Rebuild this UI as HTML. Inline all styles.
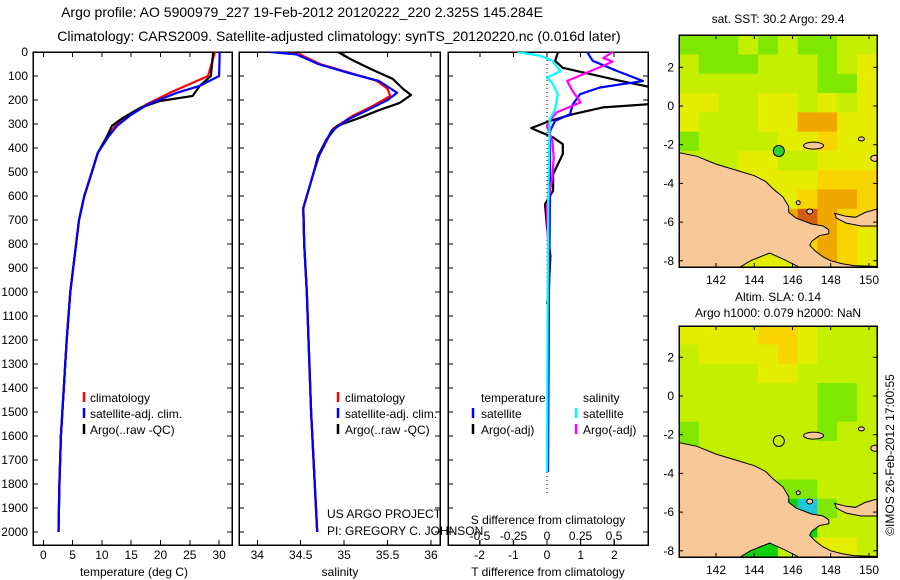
<!DOCTYPE html>
<html><head><meta charset="utf-8"><style>
html,body{margin:0;padding:0;background:#fff;}
svg{display:block;font-family:"Liberation Sans",sans-serif;}
text{font-size:12px;fill:#000;}
</style></head><body>
<svg id="fig" width="900" height="580" viewBox="0 0 900 580">
<defs>
<clipPath id="c1"><rect x="33" y="52" width="199" height="493"/></clipPath>
<clipPath id="c2"><rect x="239" y="52" width="201" height="493"/></clipPath>
<clipPath id="c3"><rect x="448" y="52" width="200" height="493"/></clipPath>
<clipPath id="cm1"><rect x="679" y="35" width="198" height="232"/></clipPath>
<clipPath id="cm2"><rect x="679" y="326" width="198" height="231"/></clipPath>
</defs>
<text x="302" y="17" text-anchor="middle" style="font-size:14px">Argo profile: AO 5900979_227 19-Feb-2012 20120222_220 2.325S 145.284E</text>
<text x="339" y="41" text-anchor="middle" style="font-size:14px">Climatology: CARS2009. Satellite-adjusted climatology: synTS_20120220.nc (0.016d later)</text>
<text x="778" y="23" text-anchor="middle">sat. SST: 30.2 Argo: 29.4</text>
<text x="778" y="301" text-anchor="middle">Altim. SLA: 0.14</text>
<text x="778" y="317" text-anchor="middle">Argo h1000: 0.079 h2000: NaN</text>
<text transform="translate(894,455) rotate(-90)" text-anchor="middle">©IMOS 26-Feb-2012 17:00:55</text>
<g id="plots"></g>
<g id="maps"></g>
</svg>
<script>
// ---- profile data (depth in m) ----
const deepDepth = [420, 500, 600, 700, 800, 900, 1000, 1200, 1400, 1600, 1800, 2000];
const deepTemp  = [9.3, 8.3, 7.0, 6.1, 5.6, 5.1, 4.6, 4.0, 3.5, 3.0, 2.75, 2.6];
const climTempDepth = [0, 100, 170, 217, 265, 295, 337];
const climTemp      = [29.3, 28.1, 21.6, 17.7, 14.5, 12.7, 11.4];
const satTempDepth  = [0, 100, 141, 170, 217, 265, 308, 350];
const satTemp       = [30.1, 30.0, 26.7, 22.8, 17.9, 14.8, 12.6, 11.2];
const argoTempDepth = [0, 100, 141, 183, 204, 233, 274, 308, 350];
const argoTemp      = [29.0, 28.6, 26.7, 25.5, 19.9, 16.5, 13.6, 11.7, 10.9];

const deepSalDepth = [500, 650, 800, 1000, 1500, 2000];
const deepSal      = [34.65, 34.53, 34.54, 34.57, 34.62, 34.69];
const climSalDepth = [0, 10, 50, 87, 121, 154, 183, 225, 266, 320, 432];
const climSal      = [34.18, 34.49, 34.72, 35.07, 35.38, 35.50, 35.53, 35.33, 35.10, 34.87, 34.71];
const satSalDepth  = [0, 10, 50, 87, 121, 170, 200, 240, 280, 330, 432];
const satSal       = [34.15, 34.45, 34.70, 35.05, 35.40, 35.61, 35.50, 35.28, 35.05, 34.85, 34.71];
const argoSalDepth = [0, 29, 70, 112, 154, 179, 212, 245, 274, 308, 362, 432];
const argoSal      = [34.93, 35.07, 35.30, 35.56, 35.68, 35.77, 35.64, 35.38, 35.18, 34.92, 34.80, 34.70];

const argoTdiffDepth = [0, 37, 66, 120, 150, 216, 231, 259, 287, 317, 356, 384, 425, 509, 578, 634, 730, 850, 1000, 1050];
const argoTdiff      = [0.33, 0.24, 0.47, 2.17, 3.2, 3.2, 1.66, 0.77, 0.09, -0.47, 0.18, 0.47, 0.47, 0.18, 0.18, -0.06, 0.0, 0.1, 0.05, 0.0];
const satTdiffDepth  = [0, 37, 79, 121, 148, 176, 218, 259, 287, 330, 600, 1000, 1750];
const satTdiff       = [1.19, 1.36, 2.08, 2.85, 1.57, 0.98, 0.77, 0.68, 0.24, 0.09, 0.09, 0.06, 0.03];
const satSdiffDepth  = [0, 16, 37, 79, 107, 130, 176, 240, 280, 600, 1000, 1750];
const satSdiff       = [-0.22, -0.05, 0.04, 0.10, 0.0, 0.04, 0.08, 0.06, 0.02, 0.01, 0.005, 0.0];
const argoSdiffDepth = [0, 25, 40, 93, 121, 162, 210, 252, 287, 310, 370, 440, 520, 650, 830];
const argoSdiff      = [0.49, 0.42, 0.49, 0.27, 0.15, 0.19, 0.25, 0.07, 0.02, 0.0, 0.04, 0.05, 0.04, 0.0, 0.01];

const depthTicks = [0,100,200,300,400,500,600,700,800,900,1000,1100,1200,1300,1400,1500,1600,1700,1800,1900,2000];
const tempTicks = [0,5,10,15,20,25,30];
const salTicks = [34,34.5,35,35.5,36];
const tdiffTicks = [-2,-1,0,1,2];
const sdiffTicks = [-0.5,-0.25,0,0.25,0.5];
const sdiffTickLabels = ['-0.5','-0.25','0','0.25','0.5'];

// ---- map data (colour class per ~1 degree cell, rows north->south) ----
const sstGrid = [
 [1,1,1,2,1,2,1,1,2,2],
 [2,1,1,1,2,2,2,1,2,3],
 [2,2,2,2,2,2,2,1,1,3],
 [3,3,2,2,3,3,2,3,2,3],
 [3,2,2,2,3,3,5,5,3,3],
 [1,2,2,2,2,3,3,4,3,3],
 [2,2,2,3,3,2,2,3,3,3],
 [2,2,2,3,3,3,3,4,4,4],
 [3,3,3,3,4,3,4,5,5,4],
 [3,3,3,3,4,5,6,5,4,4],
 [3,3,3,3,3,4,4,5,4,3],
 [3,3,3,3,3,3,4,5,4,3]];
const slaGrid = [
 [3,3,3,3,4,4,3,2,2,2],
 [2,3,3,3,3,4,3,2,2,2],
 [2,2,2,2,3,3,2,2,2,2],
 [2,2,2,2,2,2,2,1,1,2],
 [2,2,2,2,2,2,2,1,1,2],
 [1,2,2,2,2,2,2,1,2,2],
 [1,2,2,2,2,2,2,2,2,2],
 [2,2,2,2,2,2,2,2,2,2],
 [2,2,2,2,2,1,1,2,2,2],
 [2,2,2,2,2,0,7,1,2,2],
 [2,2,2,2,2,2,0,2,2,2],
 [2,2,2,0,0,2,2,3,3,2]];
const lonTicks = [142,144,146,148,150];
const latTicks = [2,0,-2,-4,-6,-8];
const argoLon = 145.284, argoLat = -2.325;

const NS='http://www.w3.org/2000/svg';
function el(tag, attrs, parent){const e=document.createElementNS(NS,tag);for(const k in attrs)e.setAttribute(k,attrs[k]);(parent||document.getElementById('plots')).appendChild(e);return e;}
const yD = d => 52 + d*0.24;
const xT = t => 43.3 + t*5.86;
const xS = s => 257.3 + (s-34)*86.85;
const xTd = t => 547 + t*33.7;
const xSd = s => 547 + s*134;

function frame(x0,x1,name){
  const r=el('rect',{x:x0,y:52,width:x1-x0,height:493,fill:'none',stroke:'#000','stroke-width':1.5,'shape-rendering':'crispEdges'});
  
  
  depthTicks.forEach(d=>{
    el('line',{x1:x0,x2:x0+5,y1:yD(d),y2:yD(d),stroke:'#000','shape-rendering':'crispEdges'});
    el('line',{x1:x1-5,x2:x1,y1:yD(d),y2:yD(d),stroke:'#000','shape-rendering':'crispEdges'});
  });
}
function xticks(vals,f,labels,y,topTicks){
  vals.forEach((v,i)=>{
    const x=f(v);
    el('line',{x1:x,x2:x,y1:540,y2:545,stroke:'#000','shape-rendering':'crispEdges'});
    if(topTicks!==false) el('line',{x1:x,x2:x,y1:52,y2:57,stroke:'#000','shape-rendering':'crispEdges'});
    const t=el('text',{x:x,y:y,'text-anchor':'middle'});t.textContent=labels?labels[i]:String(v);
    
    
  });
}
function line(dep,val,f,color,clip,name){
  const pts=dep.map((d,i)=>f(val[i]).toFixed(1)+','+yD(d).toFixed(1)).join(' ');
  const p=el('polyline',{points:pts,fill:'none',stroke:color,'stroke-width':2.2,'clip-path':'url(#'+clip+')','stroke-linejoin':'round'});
  
  
}
function txt(x,y,s,name,anchor){const t=el('text',{x:x,y:y,'text-anchor':anchor||'start'});t.textContent=s;
  
  
  return t;}
function legBar(x,y,c){el('line',{x1:x,x2:x,y1:y-10,y2:y,stroke:c,'stroke-width':2.5});}

// depth labels
depthTicks.forEach(d=>{const t=txt(28,yD(d)+4,String(d),'depth-tick-label','end');});

// panel 1: temperature
frame(33,232,'temperature-panel');
xticks(tempTicks,xT,null,559);
line(deepDepth,deepTemp,xT,'#f00','c1','temp-clim-deep');
line(climTempDepth.concat([420]),climTemp.concat([9.3]),xT,'#f00','c1','temp-climatology-line');
line(argoTempDepth.concat(deepDepth),argoTemp.concat(deepTemp),xT,'#000','c1','temp-argo-line');
line(satTempDepth.concat(deepDepth),satTemp.concat(deepTemp),xT,'#00f','c1','temp-satellite-line');
txt(134,576,'temperature (deg C)','temperature-axis-title','middle');
legBar(84,402,'#f00');txt(90,402,'climatology','legend-climatology');
legBar(84,418,'#00f');txt(90,418,'satellite-adj. clim.','legend-satellite');
legBar(84,434,'#000');txt(90,434,'Argo(..raw -QC)','legend-argo');

// panel 2: salinity
frame(239,440,'salinity-panel');
xticks(salTicks,xS,['34','34.5','35','35.5','36'],559);
line(climSalDepth.concat(deepSalDepth),climSal.concat(deepSal),xS,'#f00','c2','sal-climatology-line');
line(argoSalDepth.concat(deepSalDepth),argoSal.concat(deepSal),xS,'#000','c2','sal-argo-line');
line(satSalDepth.concat(deepSalDepth),satSal.concat(deepSal),xS,'#00f','c2','sal-satellite-line');
txt(340,576,'salinity','salinity-axis-title','middle');
legBar(338,402,'#f00');txt(345,402,'climatology','legend-climatology-2');
legBar(338,418,'#00f');txt(345,418,'satellite-adj. clim.','legend-satellite-2');
legBar(338,434,'#000');txt(345,434,'Argo(..raw -QC)','legend-argo-2');
txt(327,518,'US ARGO PROJECT','project-label');
txt(327,535,'PI: GREGORY C. JOHNSON','pi-label');

// panel 3: differences
frame(448,648,'difference-panel');
tdiffTicks.forEach(v=>{const x=xTd(v);el('line',{x1:x,x2:x,y1:540,y2:545,stroke:'#000'});const t=txt(x,559,String(v),'tdiff-tick-label','middle');});
sdiffTicks.forEach((v,i)=>{const x=xSd(v);el('line',{x1:x,x2:x,y1:52,y2:57,stroke:'#000'});el('line',{x1:x,x2:x,y1:540,y2:545,stroke:'#000'});txt(x,540,sdiffTickLabels[i],'sdiff-tick-label','middle');});
el('line',{x1:547,x2:547,y1:52,y2:yD(1850),stroke:'#000','stroke-dasharray':'1,3'});
line(argoTdiffDepth,argoTdiff,xTd,'#000','c3','tdiff-argo-line');
line(satTdiffDepth,satTdiff,xTd,'#00f','c3','tdiff-satellite-line');
line(argoSdiffDepth,argoSdiff,xSd,'#f0f','c3','sdiff-argo-line');
line(satSdiffDepth,satSdiff,xSd,'#0ff','c3','sdiff-satellite-line');
txt(548,524,'S difference from climatology','sdiff-axis-title','middle');
txt(548,576,'T difference from climatology','tdiff-axis-title','middle');
txt(481,402,'temperature','legend-temperature');
txt(583,402,'salinity','legend-salinity');
legBar(473,418,'#00f');txt(481,418,'satellite','legend-t-satellite');
legBar(473,434,'#000');txt(481,434,'Argo(-adj)','legend-t-argo');
legBar(576,418,'#0ff');txt(583,418,'satellite','legend-s-satellite');
legBar(576,434,'#f0f');txt(583,434,'Argo(-adj)','legend-s-argo');

// ---- maps ----
const palette=['#10d010','#80e800','#c4f000','#e4ec00','#f8d400','#f0a800','#d06010','#20c8d8'];
const mapsG=document.getElementById('maps');
function drawMap(grid, top, latZero, clip, name, filled){
  const lonX = lon => 716 + (lon-142)*19.125;
  const latY = lat => latZero - lat*19.35;
  const g=el('g',{'clip-path':'url(#'+clip+')'},mapsG);
  
  
  const lon0=140.07, lat0=3.66, dlon=1.033, dlat=0.997;
  grid.forEach((row,r)=>row.forEach((c,k)=>{
    const x0=lonX(lon0+k*dlon), x1=lonX(lon0+(k+1)*dlon);
    const y0=latY(lat0-r*dlat), y1=latY(lat0-(r+1)*dlat);
    const cell=el('rect',{x:x0,y:y0,width:x1-x0+0.5,height:y1-y0+0.5,fill:palette[c]},g);
    
    
  }));
  const land=[[140,-2.4],[141,-2.6],[142,-3.0],[143,-3.3],[144,-3.6],[144.6,-3.9],[145,-4.3],[145.5,-4.7],[145.8,-5.2],[145.8,-5.5],[146.2,-5.8],[147,-6.1],[147.6,-6.2],[147.9,-6.4],[147.9,-6.6],[147.4,-6.7],[147.0,-7.0],[146.9,-7.2],[147.2,-7.5],[147.6,-7.8],[148,-8.0],[148.6,-8.15],[149.2,-8.25],[150.5,-8.3],[150.5,-8.5],[146.4,-8.5],[146.3,-8.3],[145.5,-7.9],[144.8,-7.6],[144.3,-7.8],[143.8,-8.0],[143.3,-8.3],[143,-8.5],[140,-8.5]];
  const nb=[[148.2,-5.55],[148.8,-5.7],[149.3,-5.75],[149.8,-5.5],[150.5,-5.3],[150.5,-6.2],[149.6,-6.2],[148.8,-6.05],[148.3,-5.8]];
  [land,nb].forEach(poly=>{
    const p=el('polygon',{points:poly.map(q=>lonX(q[0]).toFixed(1)+','+latY(q[1]).toFixed(1)).join(' '),fill:'#f8c898',stroke:'#000','stroke-width':1},g);
    
    
  });
  [[147.1,-2.05,10,3.5],[149.6,-1.7,3,2],[150.3,-2.7,4,3],[146.9,-5.45,3,2.5],[146.3,-5.0,2,2]].forEach(q=>{
    const e=el('ellipse',{cx:lonX(q[0]),cy:latY(q[1]),rx:q[2],ry:q[3],fill:'#f8c898',stroke:'#000','stroke-width':1},g);
    
    
  });
  const fr=el('rect',{x:679,y:top,width:198,height:(clip==='cm1'?232:231),fill:'none',stroke:'#000','stroke-width':1.5,'shape-rendering':'crispEdges'},mapsG);
  
  
  const bot=top+(clip==='cm1'?232:231);
  lonTicks.forEach(v=>{const x=lonX(v);
    el('line',{x1:x,x2:x,y1:top,y2:top+4,stroke:'#000'},mapsG);el('line',{x1:x,x2:x,y1:bot-4,y2:bot,stroke:'#000'},mapsG);
    const t=el('text',{x:x,y:bot+17,'text-anchor':'middle'},mapsG);t.textContent=String(v);
    
    
  });
  latTicks.forEach(v=>{const y=latY(v);
    el('line',{x1:679,x2:683,y1:y,y2:y,stroke:'#000'},mapsG);el('line',{x1:873,x2:877,y1:y,y2:y,stroke:'#000'},mapsG);
    const t=el('text',{x:674,y:y+4,'text-anchor':'end'},mapsG);t.textContent=String(v);
    
    
  });
  const c=el('circle',{cx:lonX(argoLon),cy:latY(argoLat),r:5.5,fill:filled?'#30d030':'none',stroke:'#000','stroke-width':1},mapsG);
  
  
}
drawMap(sstGrid,35,106,'cm1','sst-map',true);
drawMap(slaGrid,326,396,'cm2','sla-map',false);
</script>
</body></html>
